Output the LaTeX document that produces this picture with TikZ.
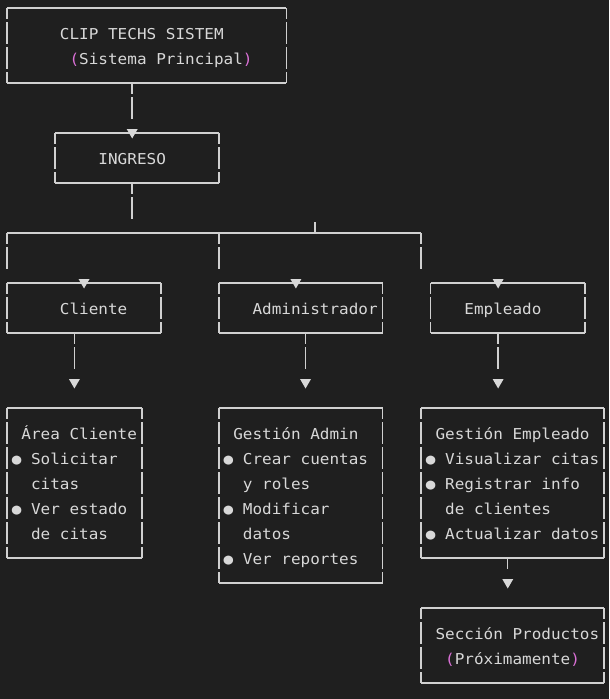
\documentclass[tikz,border=0pt]{standalone}
\usepackage{fontspec}
\usetikzlibrary{fit,calc}
\newfontfamily\codefont[FakeStretch=1.0664]{DejaVu Sans Mono}
\definecolor{bg}{HTML}{1F1F1F}
\definecolor{fg}{HTML}{D8D8D8}
\definecolor{rule}{HTML}{D0D0D0}
\definecolor{paren}{HTML}{DA70D6}
\newcommand{\paren}[1]{\textcolor{paren}{#1}}
\tikzset{
  hline/.style={draw=rule, line width=1.4pt},
  vside/.style={draw=rule, line width=1.4pt, dash pattern=on 22pt off 3pt, dash phase=11pt},
  frame/.style={inner sep=0pt, outer sep=0pt},
  txt/.style={anchor=base west, inner sep=0pt, outer sep=0pt,
    font=\codefont\fontsize{15pt}{25pt}\selectfont, text=fg, yshift=-6pt},
  tipdown/.pic={\fill[fg] (-5.5pt,4pt) -- (5.5pt,4pt) -- (0pt,-5.5pt) -- cycle;}
}
% box outline: solid top and bottom, broken sides
\newcommand{\asciiframe}[1]{%
  \draw[hline] (#1.north west) -- (#1.north east);
  \draw[hline] (#1.south west) -- (#1.south east);
  \draw[vside] (#1.north west) -- (#1.south west);
  \draw[vside] (#1.north east) -- (#1.south east);}
\begin{document}
\begin{tikzpicture}[x=9.63pt, y=-25pt]
  \fill[bg] (-0.727,-0.32) rectangle (62.513,27.64);
  \useasboundingbox (-0.727,-0.32) rectangle (62.513,27.64);

  % boxes
  \node[frame, fit={(0,0) (29,3)}] (sys) {};
  \node[frame, fit={(5,5) (22,7)}] (ing) {};
  \node[frame, fit={(0,11) (16,13)}] (cli) {};
  \node[frame, fit={(22,11) (39,13)}] (adm) {};
  \node[frame, fit={(44,11) (60,13)}] (emp) {};
  \node[frame, fit={(0,16) (14,22)}] (area) {};
  \node[frame, fit={(22,16) (39,23)}] (gadm) {};
  \node[frame, fit={(43,16) (62,22)}] (gemp) {};
  \node[frame, fit={(43,24) (62,27)}] (prod) {};
  \foreach \b in {sys,ing,cli,adm,emp,area,gadm,gemp,prod} {\asciiframe{\b}}

  % texts
  \node[txt] (t1) at (5.5,1) {CLIP TECHS SISTEM};
  \node[txt] (t2) at (6.5,2) {\paren{(}Sistema Principal\paren{)}};
  \node[txt] (t3) at (9.5,6) {INGRESO};
  \node[txt] (t4) at (5.5,12) {Cliente};
  \node[txt] (t5) at (25.5,12) {Administrador};
  \node[txt] (t6) at (47.5,12) {Empleado};

  \node[txt] (a1) at (1.5,17) {Área Cliente};
  \node[txt] (a2) at (0.5,18) {● Solicitar};
  \node[txt] (a3) at (2.5,19) {citas};
  \node[txt] (a4) at (0.5,20) {● Ver estado};
  \node[txt] (a5) at (2.5,21) {de citas};

  \node[txt] (b1) at (23.5,17) {Gestión Admin};
  \node[txt] (b2) at (22.5,18) {● Crear cuentas};
  \node[txt] (b3) at (24.5,19) {y roles};
  \node[txt] (b4) at (22.5,20) {● Modificar};
  \node[txt] (b5) at (24.5,21) {datos};
  \node[txt] (b6) at (22.5,22) {● Ver reportes};

  \node[txt] (c1) at (44.5,17) {Gestión Empleado};
  \node[txt] (c2) at (43.5,18) {● Visualizar citas};
  \node[txt] (c3) at (43.5,19) {● Registrar info};
  \node[txt] (c4) at (45.5,20) {de clientes};
  \node[txt] (c5) at (43.5,21) {● Actualizar datos};

  \node[txt] (d1) at (44.5,25) {Sección Productos};
  \node[txt] (d2) at (45.5,26) {\paren{(}Próximamente\paren{)}};

  % system -> ingreso
  \draw[vside] ($(sys.south west)+(13,0)$) -- ++(0,1.44);
  \pic at ($(ing.north west)+(8,0)$) {tipdown};

  % ingreso -> role branches
  \draw[vside] ($(ing.south west)+(8,0)$) -- ++(0,1.44) coordinate (ingtail);
  \coordinate (busW) at (0,9);
  \coordinate (busE) at (43,9);
  \coordinate (busJ) at (32,9);
  \draw[hline] (busW) -- (busE);
  \draw[hline] (busJ) -- ++(0,-0.44);
  \foreach \c in {0,22,43} {\draw[vside] (\c,9) -- ++(0,1.44);}
  \pic at ($(cli.north west)+(8,0)$) {tipdown};
  \pic at ($(adm.north west)+(8,0)$) {tipdown};
  \pic at ($(emp.north west)+(7,0)$) {tipdown};

  % roles -> areas
  \draw[vside] ($(cli.south west)+(7,0)$) -- ++(0,1.44);
  \pic at ($(area.north west)+(7,-1)$) {tipdown};
  \draw[vside] ($(adm.south west)+(9,0)$) -- ++(0,1.44);
  \pic at ($(gadm.north west)+(9,-1)$) {tipdown};
  \draw[vside] ($(emp.south west)+(7,0)$) -- ++(0,1.44);
  \pic at ($(gemp.north west)+(8,-1)$) {tipdown};

  % empleado -> productos
  \draw[vside] ($(gemp.south west)+(9,0)$) -- ++(0,0.46);
  \pic at ($(prod.north west)+(9,-1)$) {tipdown};
\end{tikzpicture}
\end{document}
